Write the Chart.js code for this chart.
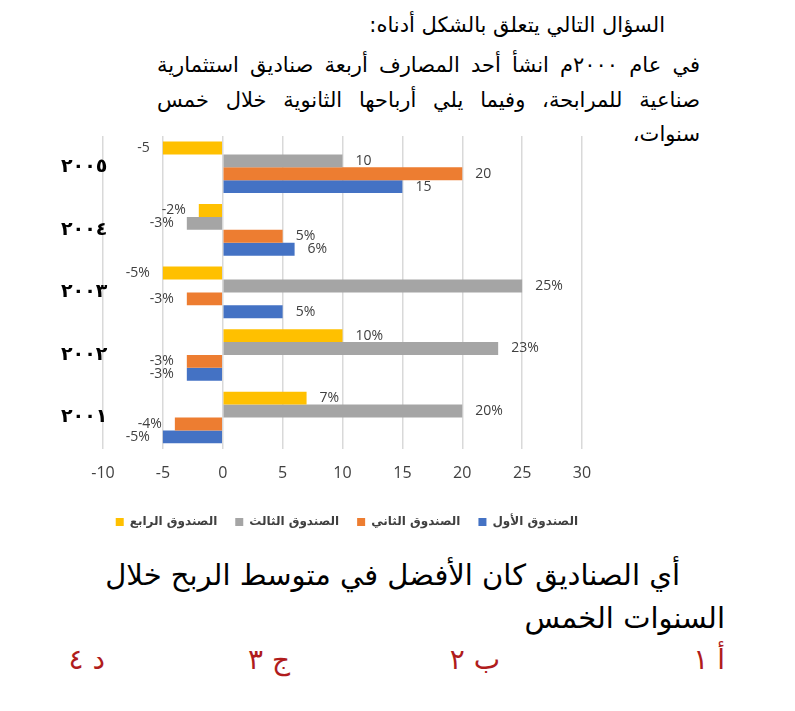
<!DOCTYPE html>
<html>
<head>
<meta charset="utf-8">
<script src="https://cdn.jsdelivr.net/npm/chart.js@4/dist/chart.umd.min.js"></script>
<style>
  html, body { margin: 0; padding: 0; background: #ffffff; }
  body { width: 795px; height: 711px; position: relative; overflow: hidden; font-family: "DejaVu Sans", sans-serif; }
  .t { position: absolute; direction: rtl; color: #000; white-space: nowrap; }
  .j { position: absolute; direction: rtl; color: #000; text-align: justify; text-align-last: justify; }
  #chartWrap { position: absolute; left: 40px; top: 128px; width: 580px; height: 410px; }
  .ans { position: absolute; direction: rtl; color: #b01c1c; white-space: nowrap; font-size: 28px; line-height: 34px; }
</style>
</head>
<body>
<div class="t" style="right:130px; top:9px; font-size:21px; line-height:32px;">السؤال التالي يتعلق بالشكل أدناه:</div>
<div class="j" style="left:157px; width:543px; top:49px; font-size:21px; line-height:32px;">في عام ٢٠٠٠م انشأ أحد المصارف أربعة صناديق استثمارية</div>
<div class="j" style="left:157px; width:543px; top:84px; font-size:21px; line-height:32px;">صناعية للمرابحة، وفيما يلي أرباحها الثانوية خلال خمس</div>
<div class="t" style="right:95px; top:118px; font-size:21px; line-height:32px;">سنوات،</div>

<div id="chartWrap"><canvas id="c" width="580" height="410"></canvas></div>

<div class="t" style="right:115px; top:555px; font-size:29px; line-height:40px;">أي الصناديق كان الأفضل في متوسط الربح خلال</div>
<div class="t" style="right:70px; top:598px; font-size:29px; line-height:40px;">السنوات الخمس</div>
<div class="ans" style="right:70px; top:643px;">أ ١</div>
<div class="ans" style="right:295px; top:643px;">ب ٢</div>
<div class="ans" style="right:505px; top:643px;">ج ٣</div>
<div class="ans" style="right:690px; top:643px;">د ٤</div>

<script>
// Categories (top to bottom)
const years = ['٢٠٠٥', '٢٠٠٤', '٢٠٠٣', '٢٠٠٢', '٢٠٠١'];
// label suffix per category
const valueSuffix = ['', '%', '%', '%', '%'];
// Series values
const fund4 = [-5, -2, -5, 10, 7];    // الصندوق الرابع
const fund3 = [10, -3, 25, 23, 20];   // الصندوق الثالث
const fund2 = [20, 5, -3, -3, -4];    // الصندوق الثاني
const fund1 = [15, 6, 5, -3, -5];     // الصندوق الأول
// Series names
const seriesNames = ['الصندوق الرابع', 'الصندوق الثالث', 'الصندوق الثاني', 'الصندوق الأول'];
// Axis
const xMin = -10, xMax = 30, xStep = 5;

const colors = ['#FFC000', '#A5A5A5', '#ED7D31', '#4472C4'];
const seriesData = [fund4, fund3, fund2, fund1];

const labelPlugin = {
  id: 'barLabels',
  afterDatasetsDraw(chart) {
    const ctx = chart.ctx;
    ctx.save();
    ctx.font = '14px "Open Sans", "DejaVu Sans", sans-serif';
    ctx.fillStyle = '#404040';
    ctx.textBaseline = 'middle';
    chart.data.datasets.forEach((ds, di) => {
      const meta = chart.getDatasetMeta(di);
      meta.data.forEach((el, i) => {
        const v = ds.data[i];
        const txt = String(v) + valueSuffix[i];
        if (v >= 0) {
          ctx.textAlign = 'left';
          ctx.fillText(txt, el.x + 13, el.y);
        } else {
          ctx.textAlign = 'right';
          ctx.fillText(txt, el.x - 13, el.y);
        }
      });
    });
    ctx.restore();
  }
};

new Chart(document.getElementById('c'), {
  type: 'bar',
  data: {
    labels: years,
    datasets: seriesData.map((d, i) => ({
      label: seriesNames[i],
      data: d,
      backgroundColor: colors[i],
      borderWidth: 0,
      barPercentage: 1.0,
      categoryPercentage: 0.825
    }))
  },
  options: {
    indexAxis: 'y',
    responsive: false,
    animation: false,
    layout: { padding: { top: 8, right: 24, left: 0, bottom: 0 } },
    scales: {
      x: {
        min: xMin, max: xMax,
        ticks: { stepSize: xStep, color: '#404040', font: { size: 16, family: '"Open Sans", sans-serif' }, padding: 15 },
        grid: { color: '#d9d9d9', lineWidth: 1.5, drawTicks: false },
        border: { display: false },
        afterFit(s) { s.paddingRight = 38; }
      },
      y: {
        grid: { display: false },
        border: { display: false },
        ticks: { color: '#000', mirror: true, font: { size: 19, weight: 'bold', family: '"DejaVu Sans", sans-serif' }, padding: -42 },
        afterFit(s) { s.width = 63; }
      }
    },
    plugins: {
      legend: {
        position: 'bottom',
        align: 'end',
        labels: { boxWidth: 8, boxHeight: 8, color: '#404040', font: { size: 12, weight: 'bold', family: '"DejaVu Sans", sans-serif' }, padding: 18 }
      },
      tooltip: { enabled: false }
    }
  },
  plugins: [labelPlugin]
});
</script>
</body>
</html>
